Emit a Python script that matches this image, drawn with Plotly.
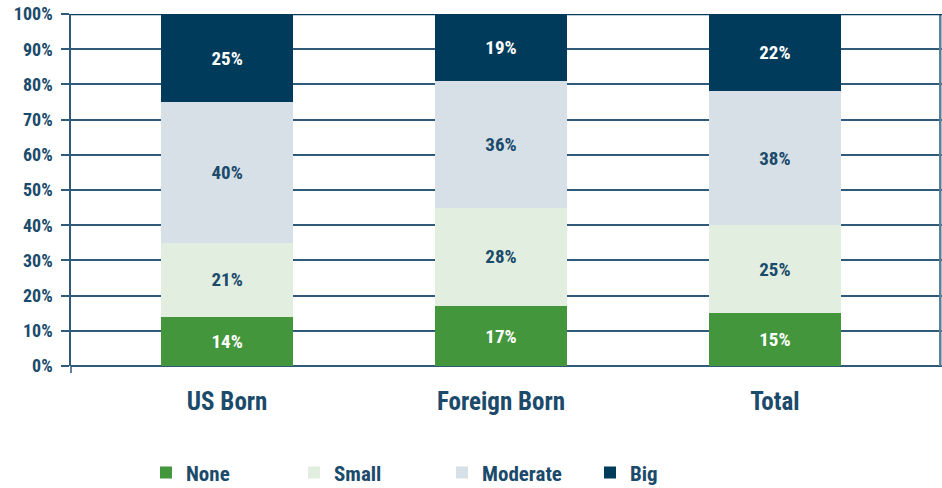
import plotly.graph_objects as go

# Datos
categorias = ["US Born", "Foreign Born", "Total"]
none_vals = [14, 17, 15]
small_vals = [21, 28, 25]
moderate_vals = [40, 36, 38]
big_vals = [25, 19, 22]
ticks_y = [0, 10, 20, 30, 40, 50, 60, 70, 80, 90, 100]
ticks_y_txt = [f"{v}%" for v in ticks_y]

FUENTE = "Roboto Condensed, Open Sans Condensed, sans-serif"
AZUL = "#1b4a6b"
LINEA = "#2f5a7a"

series = [
    ("None", none_vals, "#43963c", "white"),
    ("Small", small_vals, "#e2efe0", AZUL),
    ("Moderate", moderate_vals, "#d7e0e6", AZUL),
    ("Big", big_vals, "#003b5c", "white"),
]

fig = go.Figure()
for nombre, vals, color, color_txt in series:
    fig.add_trace(go.Bar(
        x=categorias, y=vals, name=nombre,
        marker=dict(color=color, line=dict(width=0)),
        width=0.48,
        text=[f"{v}%" for v in vals], texttemplate="%{text}",
        textposition="inside", insidetextanchor="middle", textangle=0,
        textfont=dict(family=FUENTE, size=19, color=color_txt, weight="bold"),
        hoverinfo="skip",
    ))

# marco: borde derecho y prolongación del eje izquierdo bajo el 0%
fig.add_shape(type="line", xref="paper", yref="paper", x0=0.998, x1=0.998, y0=0, y1=1,
              line=dict(color="#5a7f98", width=2.5))
fig.add_shape(type="line", xref="paper", yref="paper", x0=0, x1=0, y0=-0.02, y1=0,
              line=dict(color=LINEA, width=1.5))

fig.update_layout(
    barmode="stack",
    width=942, height=488,
    margin=dict(l=71, r=0, t=14, b=122),
    plot_bgcolor="white", paper_bgcolor="white",
    font=dict(family=FUENTE, color=AZUL, weight="bold"),
    uniformtext=dict(minsize=10, mode="show"),
    xaxis=dict(
        range=[-0.57, 2.61],
        showgrid=False, showline=False, ticks="",
        tickfont=dict(size=25, color=AZUL),
        ticklabelstandoff=18,
    ),
    yaxis=dict(
        range=[0, 100],
        tickvals=ticks_y, ticktext=ticks_y_txt,
        tickfont=dict(size=18, color=AZUL),
        showgrid=True, gridcolor=LINEA, gridwidth=1.5,
        zeroline=True, zerolinecolor=LINEA, zerolinewidth=1.5,
        showline=True, linecolor=LINEA, linewidth=1.5,
        ticks="outside", ticklen=8, tickcolor=LINEA, tickwidth=1.5,
        ticklabelstandoff=5,
    ),
    legend=dict(
        orientation="h",
        xref="container", yref="container",
        x=0.155, y=0.031, xanchor="left", yanchor="middle",
        entrywidth=103, entrywidthmode="pixels",
        font=dict(size=21, color=AZUL),
        traceorder="normal",
    ),
    showlegend=True,
)
# línea superior (100%) más gruesa
fig.add_hline(y=100, line=dict(color="#003b5c", width=2.5))

fig.write_html("out.html", config={"displayModeBar": False},
               post_script="document.body.style.margin='0';")
